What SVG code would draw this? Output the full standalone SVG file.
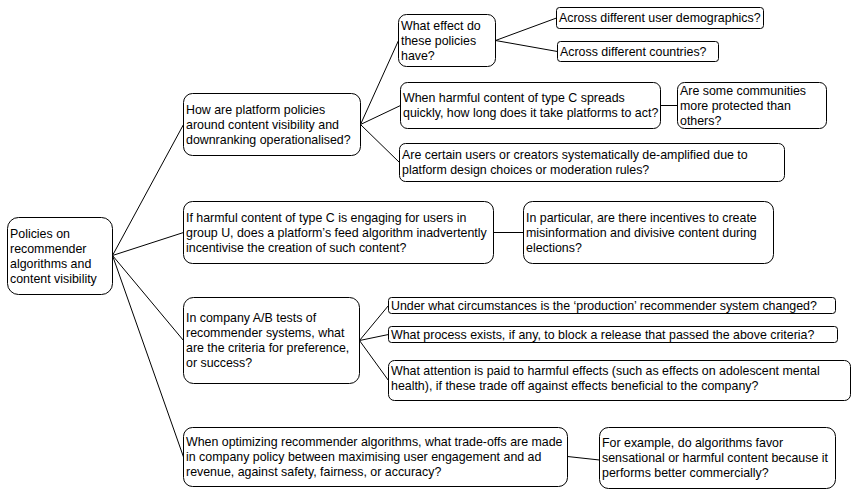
<svg xmlns="http://www.w3.org/2000/svg" width="854" height="490" viewBox="0 0 854 490">
<style>
.n{fill:#fff;stroke:#000;stroke-width:1}
.t{font-family:"Liberation Sans",Arial,Helvetica,sans-serif;font-size:12.4px;fill:#000}
.e{stroke:#000;stroke-width:1;fill:none}
</style>
<rect width="854" height="490" fill="#fff"/>
<g id="connectors">
<path class="e" d="M112.5,255.5 L183.5,124.5"/>
<path class="e" d="M112.5,255.5 L183.5,232.5"/>
<path class="e" d="M112.5,255.5 L183.5,340.5"/>
<path class="e" d="M112.5,255.5 L183.5,457"/>
<path class="e" d="M360.5,124.5 L398.5,40.5"/>
<path class="e" d="M360.5,124.5 L400.5,105.5"/>
<path class="e" d="M360.5,124.5 L399.5,162.5"/>
<path class="e" d="M495.5,40.5 L556.5,18"/>
<path class="e" d="M495.5,40.5 L557.5,51.5"/>
<path class="e" d="M660.5,105.5 L677.5,105.5"/>
<path class="e" d="M493.5,232.5 L523.5,232.5"/>
<path class="e" d="M359.5,340.5 L388.5,305.5"/>
<path class="e" d="M359.5,340.5 L388.5,334.5"/>
<path class="e" d="M359.5,340.5 L388.5,380.5"/>
<path class="e" d="M567.5,456.5 L599.5,460"/>
</g>
<g id="root">
<rect class="n" x="7.5" y="217.5" width="105" height="77" rx="11"/>
<text class="t"><tspan x="10" y="237.5">Policies on</tspan><tspan x="10" y="252.5">recommender</tspan><tspan x="10" y="267.5">algorithms and</tspan><tspan x="10" y="282.5">content visibility</tspan></text>
</g>
<g id="nodeA">
<rect class="n" x="183.5" y="93.5" width="177" height="62" rx="9"/>
<text class="t"><tspan x="186" y="113.5">How are platform policies</tspan><tspan x="186" y="128.5">around content visibility and</tspan><tspan x="186" y="143.5">downranking operationalised?</tspan></text>
</g>
<g id="nodeB">
<rect class="n" x="398.5" y="14.5" width="97" height="52" rx="8"/>
<text class="t"><tspan x="401" y="29.5">What effect do</tspan><tspan x="401" y="44.5">these policies</tspan><tspan x="401" y="59.5">have?</tspan></text>
</g>
<g id="nodeC">
<rect class="n" x="556.5" y="7.5" width="207" height="21" rx="3"/>
<text class="t" x="559" y="22">Across different user demographics?</text>
</g>
<g id="nodeD">
<rect class="n" x="557.5" y="41.5" width="161" height="20" rx="3"/>
<text class="t" x="560" y="55.5">Across different countries?</text>
</g>
<g id="nodeE">
<rect class="n" x="400.5" y="82.5" width="260" height="46" rx="7"/>
<text class="t"><tspan x="403" y="102">When harmful content of type C spreads</tspan><tspan x="403" y="117">quickly, how long does it take platforms to act?</tspan></text>
</g>
<g id="nodeF">
<rect class="n" x="677.5" y="82.5" width="149" height="46" rx="7"/>
<text class="t"><tspan x="680" y="94.5">Are some communities</tspan><tspan x="680" y="109.5">more protected than</tspan><tspan x="680" y="124.5">others?</tspan></text>
</g>
<g id="nodeG">
<rect class="n" x="399.5" y="143.5" width="385" height="38" rx="6"/>
<text class="t"><tspan x="402" y="159">Are certain users or creators systematically de-amplified due to</tspan><tspan x="402" y="174">platform design choices or moderation rules?</tspan></text>
</g>
<g id="nodeH">
<rect class="n" x="183.5" y="201.5" width="310" height="62" rx="9"/>
<text class="t"><tspan x="186" y="221.5">If harmful content of type C is engaging for users in</tspan><tspan x="186" y="236.5">group U, does a platform’s feed algorithm inadvertently</tspan><tspan x="186" y="251.5">incentivise the creation of such content?</tspan></text>
</g>
<g id="nodeI">
<rect class="n" x="523.5" y="201.5" width="250" height="62" rx="9"/>
<text class="t"><tspan x="526" y="221.5">In particular, are there incentives to create</tspan><tspan x="526" y="236.5">misinformation and divisive content during</tspan><tspan x="526" y="251.5">elections?</tspan></text>
</g>
<g id="nodeJ">
<rect class="n" x="183.5" y="297.5" width="176" height="86" rx="10"/>
<text class="t"><tspan x="186" y="322">In company A/B tests of</tspan><tspan x="186" y="337">recommender systems, what</tspan><tspan x="186" y="352">are the criteria for preference,</tspan><tspan x="186" y="367">or success?</tspan></text>
</g>
<g id="nodeK">
<rect class="n" x="388.5" y="297.5" width="447" height="16" rx="3"/>
<text class="t" x="391" y="309.5">Under what circumstances is the ‘production’ recommender system changed?</text>
</g>
<g id="nodeL">
<rect class="n" x="388.5" y="326.5" width="449" height="16" rx="3"/>
<text class="t" x="391" y="338.5">What process exists, if any, to block a release that passed the above criteria?</text>
</g>
<g id="nodeM">
<rect class="n" x="388.5" y="360.5" width="462" height="40" rx="6"/>
<text class="t"><tspan x="391" y="374.5">What attention is paid to harmful effects (such as effects on adolescent mental</tspan><tspan x="391" y="389.5">health), if these trade off against effects beneficial to the company?</tspan></text>
</g>
<g id="nodeN">
<rect class="n" x="183.5" y="427.5" width="384" height="59" rx="9"/>
<text class="t"><tspan x="186" y="446">When optimizing recommender algorithms, what trade-offs are made</tspan><tspan x="186" y="461">in company policy between maximising user engagement and ad</tspan><tspan x="186" y="476">revenue, against safety, fairness, or accuracy?</tspan></text>
</g>
<g id="nodeO">
<rect class="n" x="599.5" y="427.5" width="236" height="61" rx="9"/>
<text class="t"><tspan x="602" y="447">For example, do algorithms favor</tspan><tspan x="602" y="462">sensational or harmful content because it</tspan><tspan x="602" y="477">performs better commercially?</tspan></text>
</g>
</svg>
